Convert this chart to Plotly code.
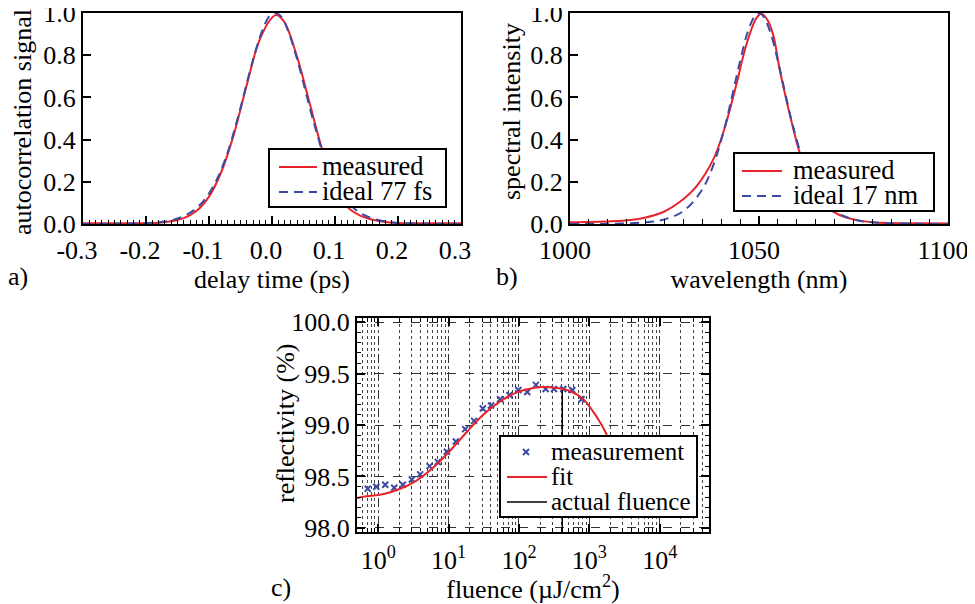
import plotly.graph_objects as go

# ---------------- Panel a: autocorrelation ----------------
delay_measured = [-0.30, -0.25, -0.20, -0.18, -0.16, -0.14, -0.12, -0.10, -0.08, -0.06,
                  -0.04, -0.02, 0.00, 0.007, 0.02, 0.04, 0.06, 0.08, 0.10, 0.12,
                  0.14, 0.16, 0.18, 0.20, 0.25, 0.30]
ac_measured = [0.003, 0.003, 0.004, 0.006, 0.013, 0.028, 0.062, 0.13, 0.25, 0.43,
               0.66, 0.87, 0.978, 0.99, 0.955, 0.79, 0.57, 0.35, 0.185, 0.08,
               0.04, 0.02, 0.009, 0.005, 0.003, 0.003]

delay_ideal = [-0.30, -0.245, -0.195, -0.175, -0.155, -0.135, -0.115, -0.095, -0.075, -0.055,
               -0.035, -0.025, -0.015, -0.005, 0.005, 0.015, 0.025, 0.035, 0.045, 0.065,
               0.085, 0.105, 0.125, 0.145, 0.165, 0.185, 0.205, 0.255, 0.30]
ac_ideal = [0.0, 0.0006, 0.0046, 0.010, 0.021, 0.044, 0.0885, 0.169, 0.30, 0.495,
            0.725, 0.831, 0.92, 0.982, 1.0, 0.982, 0.92, 0.831, 0.725, 0.495,
            0.30, 0.169, 0.0885, 0.044, 0.021, 0.010, 0.0046, 0.0006, 0.0]

delay_tickvals = [-0.3, -0.2, -0.1, 0.0, 0.1, 0.2, 0.3]
delay_ticktext = ["-0.3", "-0.2", "-0.1", "0.0", "0.1", "0.2", "0.3"]

# ---------------- Panel b: spectrum ----------------
wl_measured = [1000, 1005, 1010, 1016, 1020, 1024.7, 1029, 1033.5, 1038, 1041, 1044,
               1046.5, 1049, 1050.5, 1052, 1053.7, 1055.5, 1058, 1060.4, 1062, 1065,
               1068, 1071, 1075, 1080, 1085, 1090, 1100]
spec_measured = [0.008, 0.009, 0.012, 0.019, 0.031, 0.057, 0.104, 0.18, 0.31, 0.46, 0.66,
                 0.84, 0.966, 0.997, 0.974, 0.90, 0.73, 0.53, 0.36, 0.27, 0.15,
                 0.08, 0.045, 0.022, 0.008, 0.004, 0.003, 0.002]

wl_ideal = [1000, 1010, 1020, 1025, 1030, 1035, 1038, 1041, 1043, 1045, 1047, 1049, 1050,
            1051, 1053, 1055, 1057, 1059, 1062, 1065, 1070, 1075, 1080, 1090, 1100]
spec_ideal = [0.0001, 0.001, 0.0078, 0.022, 0.061, 0.164, 0.283, 0.463, 0.615, 0.772, 0.909,
              0.989, 1.0, 0.989, 0.909, 0.772, 0.615, 0.463, 0.283, 0.164, 0.061, 0.022,
              0.0078, 0.001, 0.0001]

# ---------------- Panel c: reflectivity vs fluence ----------------
fluence_meas = [0.71, 0.94, 1.26, 1.69, 2.24, 3.01, 3.95, 5.36, 7.03, 9.44, 12.7, 17.2,
                23.0, 30.6, 40.1, 53.8, 73.0, 98.0, 131, 174, 239, 314, 426, 571, 774]
refl_meas = [98.38, 98.40, 98.42, 98.39, 98.42, 98.47, 98.52, 98.60, 98.64, 98.74, 98.84,
             98.96, 99.04, 99.16, 99.19, 99.25, 99.29, 99.34, 99.32, 99.39, 99.35, 99.35,
             99.35, 99.34, 99.25]

fluence_fit = [0.5, 0.59, 1.2, 2.06, 3.5, 6.1, 10.5, 18, 31, 54, 95, 160, 220, 340, 530,
               820, 1130, 1410, 1720, 2100, 2600]
refl_fit = [98.29, 98.30, 98.33, 98.38, 98.46, 98.59, 98.75, 98.93, 99.10, 99.23, 99.32,
            99.36, 99.37, 99.36, 99.33, 99.25, 99.13, 99.03, 98.92, 98.75, 98.50]

actual_fluence = [412, 412]
actual_fluence_refl = [97.96, 99.34]

fluence_tickvals = [1, 10, 100, 1000, 10000]
fluence_ticktext = ["10<sup>0</sup>", "10<sup>1</sup>", "10<sup>2</sup>", "10<sup>3</sup>", "10<sup>4</sup>"]

# legend labels
legend_a = ["measured", "ideal 77 fs"]
legend_b = ["measured", "ideal 17 nm"]
legend_c = ["measurement", "fit", "actual fluence"]

RED = "#e8232b"
BLUE = "#3b4ba5"
FONT = "Liberation Serif, Times New Roman, Times, serif"
DASH = "9px,6px"

fig = go.Figure()

fig.add_trace(go.Scatter(x=delay_measured, y=ac_measured, mode="lines", name=legend_a[0],
                         line=dict(color=RED, width=2, shape="spline"),
                         xaxis="x", yaxis="y", showlegend=False))
fig.add_trace(go.Scatter(x=delay_ideal, y=ac_ideal, mode="lines", name=legend_a[1],
                         line=dict(color=BLUE, width=2, dash=DASH, shape="spline"),
                         xaxis="x", yaxis="y", showlegend=False))

fig.add_trace(go.Scatter(x=wl_measured, y=spec_measured, mode="lines", name=legend_b[0],
                         line=dict(color=RED, width=2, shape="spline"),
                         xaxis="x2", yaxis="y2", showlegend=False))
fig.add_trace(go.Scatter(x=wl_ideal, y=spec_ideal, mode="lines", name=legend_b[1],
                         line=dict(color=BLUE, width=2, dash=DASH, shape="spline"),
                         xaxis="x2", yaxis="y2", showlegend=False))

fig.add_trace(go.Scatter(x=fluence_meas, y=refl_meas, mode="markers", name=legend_c[0],
                         marker=dict(symbol="x-thin", size=6, color=BLUE,
                                     line=dict(color=BLUE, width=2)),
                         xaxis="x3", yaxis="y3", showlegend=False))
fig.add_trace(go.Scatter(x=fluence_fit, y=refl_fit, mode="lines", name=legend_c[1],
                         line=dict(color=RED, width=2, shape="spline"),
                         xaxis="x3", yaxis="y3", showlegend=False))
fig.add_trace(go.Scatter(x=actual_fluence, y=actual_fluence_refl, mode="lines", name=legend_c[2],
                         line=dict(color="black", width=1.5),
                         xaxis="x3", yaxis="y3", showlegend=False))

axis_common = dict(showline=True, linewidth=2, linecolor="black", mirror=True,
                   ticks="inside", ticklen=8, tickwidth=1.5, tickcolor="black",
                   showgrid=False, zeroline=False, automargin=False,
                   ticklabeloverflow="allow",
                   tickfont=dict(family=FONT, size=26, color="black"))

# The page body has an 8 px margin, so the figure is placed 8 px in and
# all layout positions below are given in window pixels and converted.
OFF = 8
W, H = 975 - OFF, 604 - OFF


def px(x):
    return (x - OFF) / W


def py(y):
    return 1 - (y - OFF) / H


shapes = []
annotations = []


def legend_box(x0, y0, x1, y1):
    shapes.append(dict(type="rect", xref="paper", yref="paper", layer="above",
                       x0=px(x0), x1=px(x1), y0=py(y0), y1=py(y1),
                       line=dict(color="black", width=2), fillcolor="white"))


def legend_line(x0, x1, y, color, dash=None, width=2):
    ln = dict(color=color, width=width)
    if dash:
        ln["dash"] = dash
    shapes.append(dict(type="line", xref="paper", yref="paper", layer="above",
                       x0=px(x0), x1=px(x1), y0=py(y), y1=py(y), line=ln))


def legend_cross(xc, yc, color, r=3):
    for s in (1, -1):
        shapes.append(dict(type="line", xref="paper", yref="paper", layer="above",
                           x0=px(xc - r), x1=px(xc + r), y0=py(yc - s * r), y1=py(yc + s * r),
                           line=dict(color=color, width=2)))


def text(x, y, t, anchor="left", angle=0, size=26):
    annotations.append(dict(text=t, x=px(x), y=py(y), xref="paper", yref="paper",
                            showarrow=False, xanchor=anchor, yanchor="middle",
                            textangle=angle,
                            font=dict(family=FONT, size=size, color="black")))


# legend a
legend_box(269, 149, 446, 207)
legend_line(279, 317, 167, RED)
legend_line(279, 317, 192, BLUE, dash=DASH)
text(320, 166, legend_a[0], size=26.5)
text(320, 191, legend_a[1], size=26.5)

# legend b
legend_box(734, 153, 934, 211)
legend_line(742, 782, 171, RED)
legend_line(742, 782, 196, BLUE, dash=DASH)
text(791, 170, legend_b[0], size=26.5)
text(791, 195, legend_b[1], size=26.5)

# legend c
legend_box(500, 436, 697, 517)
legend_cross(526, 452, BLUE)
legend_line(507, 547, 477, RED)
legend_line(507, 547, 502, "black", width=1.5)
text(549, 451, legend_c[0], size=25)
text(549, 476, legend_c[1], size=25)
text(549, 501, legend_c[2], size=25)

# panel labels and y-axis titles
text(18, 277, "a)", anchor="center")
text(507, 277, "b)", anchor="center")
text(281, 587, "c)", anchor="center")
text(22, 122, "autocorrelation signal", anchor="center", angle=-90)
text(512, 112, "spectral intensity", anchor="center", angle=-90)
text(285, 423, "reflectivity (%)", anchor="center", angle=-90)

TOP_AB = 13

fig.update_layout(
    width=W, height=H,
    margin=dict(l=0, r=0, t=0, b=0),
    paper_bgcolor="white", plot_bgcolor="white",
    font=dict(family=FONT, size=26, color="black"),
    showlegend=False,
    xaxis=dict(domain=[px(83), px(461)], range=[-0.3, 0.3], anchor="y",
               tickmode="array", tickvals=delay_tickvals, ticktext=delay_ticktext,
               minor=dict(dtick=0.01, tick0=0, ticks="inside", ticklen=4, tickwidth=1, tickcolor="black"),
               title=dict(text="delay time (ps)", standoff=0, font=dict(size=26)),
               ticklabelshift=-6, ticklabelstandoff=2,
               **axis_common),
    yaxis=dict(domain=[py(224), py(TOP_AB)], range=[0, 1.0], anchor="x",
               dtick=0.2, tickformat=".1f",
               **axis_common),
    xaxis2=dict(domain=[px(570), px(948)], range=[1000, 1100], anchor="y2",
                dtick=50,
                minor=dict(dtick=5, tick0=1000, ticks="inside", ticklen=5, tickwidth=1, tickcolor="black"),
                title=dict(text="wavelength (nm)", standoff=0, font=dict(size=26)),
                ticklabelshift=-5, ticklabelstandoff=2,
                **axis_common),
    yaxis2=dict(domain=[py(224), py(TOP_AB)], range=[0, 1.0], anchor="x2",
                dtick=0.2, tickformat=".1f",
                **axis_common),
    xaxis3=dict(domain=[px(357), px(709)], type="log", range=[-0.301, 4.699], anchor="y3",
                tickmode="array", tickvals=fluence_tickvals, ticktext=fluence_ticktext,
                showline=True, linewidth=2, linecolor="black", mirror="ticks",
                ticks="inside", ticklen=8, tickwidth=1.5, tickcolor="black",
                showgrid=True, gridcolor="#333333", gridwidth=1, griddash="dash",
                zeroline=False, automargin=False, ticklabeloverflow="allow",
                ticklabelstandoff=4,
                tickfont=dict(family=FONT, size=26, color="black"),
                minor=dict(dtick="D1", ticks="inside", ticklen=4, tickwidth=1, tickcolor="black",
                           showgrid=True, gridcolor="#444444", gridwidth=1, griddash="dot"),
                title=dict(text="fluence (µJ/cm<sup>2</sup>)", standoff=0, font=dict(size=26))),
    yaxis3=dict(domain=[py(532), py(318)], range=[97.96, 100.04], anchor="x3",
                dtick=0.5, tickformat=".1f",
                showline=True, linewidth=2, linecolor="black", mirror="ticks",
                ticks="inside", ticklen=8, tickwidth=1.5, tickcolor="black",
                showgrid=True, gridcolor="#333333", gridwidth=1, griddash="dash",
                zeroline=False, automargin=False, ticklabeloverflow="allow",
                tickfont=dict(family=FONT, size=26, color="black"),
                minor=dict(dtick=0.1, ticks="inside", ticklen=4, tickwidth=1, tickcolor="black")),
    shapes=shapes,
    annotations=annotations,
)

fig.write_html("out.html")
